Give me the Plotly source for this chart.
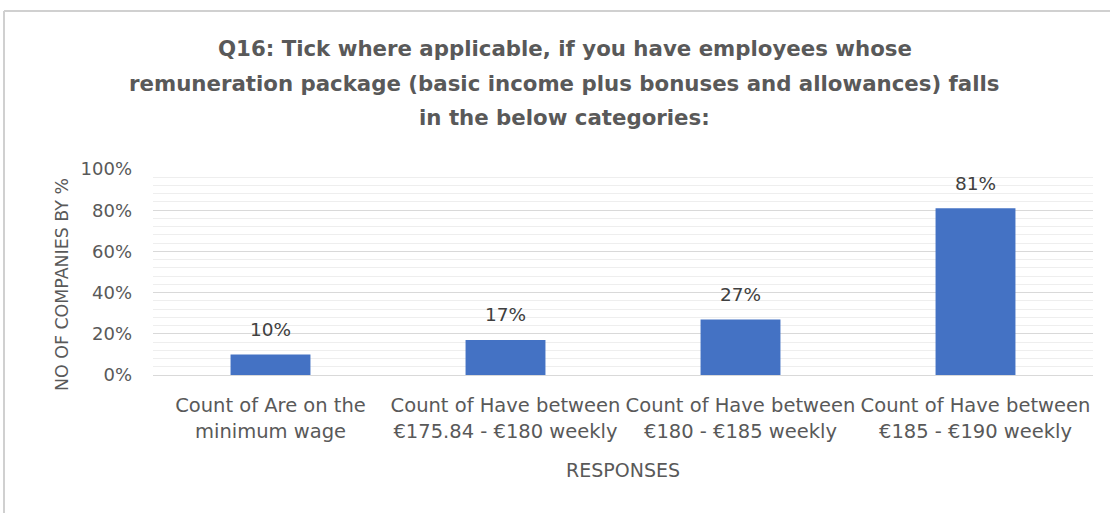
import plotly.graph_objects as go

categories = [
    "Count of Are on the<br>minimum wage",
    "Count of Have between<br>€175.84 - €180 weekly",
    "Count of Have between<br>€180 - €185 weekly",
    "Count of Have between<br>€185 - €190 weekly",
]
values = [0.10, 0.17, 0.27, 0.81]
labels = ["10%", "17%", "27%", "81%"]
y_ticks = [0, 0.2, 0.4, 0.6, 0.8, 1.0]
y_tick_text = ["0%", "20%", "40%", "60%", "80%", "100%"]
title_lines = [
    "Q16: Tick where applicable, if you have employees whose",
    "remuneration package (basic income plus bonuses and allowances) falls",
    "in the below categories:",
]

FONT = "DejaVu Sans, sans-serif"
GREY = "#595959"

fig = go.Figure(
    go.Bar(
        x=categories,
        y=values,
        marker=dict(color="#4472C4", line=dict(width=0)),
        width=0.34,
        hoverinfo="skip",
    )
)

# value labels above each bar
annotations = [
    dict(x=c, y=v, xref="x", yref="y", text=t, showarrow=False,
         yshift=25, font=dict(size=18.5, color="#404040", family=FONT))
    for c, v, t in zip(categories, values, labels)
]

# title, one annotation per line for the wide line spacing
title_y = [1.587, 1.417, 1.248]
for line, ty in zip(title_lines, title_y):
    annotations.append(
        dict(x=0.438, y=ty, xref="paper", yref="paper", text=f"<b>{line}</b>",
             showarrow=False, xanchor="center", yanchor="middle",
             font=dict(size=21.3, color=GREY, family=FONT))
    )

# axis titles
annotations.append(
    dict(x=0.5, y=-0.461, xref="paper", yref="paper", text="RESPONSES",
         showarrow=False, xanchor="center", yanchor="middle",
         font=dict(size=19, color=GREY, family=FONT))
)
annotations.append(
    dict(x=-0.0968, y=0.437, xref="paper", yref="paper", text="NO OF COMPANIES BY %",
         showarrow=False, textangle=-90, xanchor="center", yanchor="middle",
         font=dict(size=17.4, color=GREY, family=FONT))
)

fig.update_layout(
    width=1110,
    height=513,
    margin=dict(l=153, r=17, t=169, b=138),
    paper_bgcolor="white",
    plot_bgcolor="white",
    showlegend=False,
    font=dict(family=FONT, color=GREY),
    annotations=annotations,
    xaxis=dict(
        tickfont=dict(size=19.5, color=GREY, family=FONT),
        showline=True,
        linecolor="#d9d9d9",
        ticks="",
        ticklabelstandoff=13,
    ),
    yaxis=dict(
        range=[0, 1.0],
        tickvals=y_ticks,
        ticktext=y_tick_text,
        tickfont=dict(size=18, color=GREY, family=FONT),
        gridcolor="#d9d9d9",
        zeroline=False,
        ticks="",
        ticklabelstandoff=20,
        minor=dict(dtick=0.04, showgrid=True, gridcolor="#eeeeee"),
    ),
    shapes=[
        dict(type="line", xref="paper", yref="paper", x0=-0.1585, x1=1.03, y0=1.767, y1=1.767,
             line=dict(color="#d0d0d0", width=2), layer="above"),
        dict(type="line", xref="paper", yref="paper", x0=-0.1585, x1=-0.1585, y0=1.767, y1=-0.7,
             line=dict(color="#d0d0d0", width=2), layer="above"),
    ],
)

fig.write_html("out.html")
